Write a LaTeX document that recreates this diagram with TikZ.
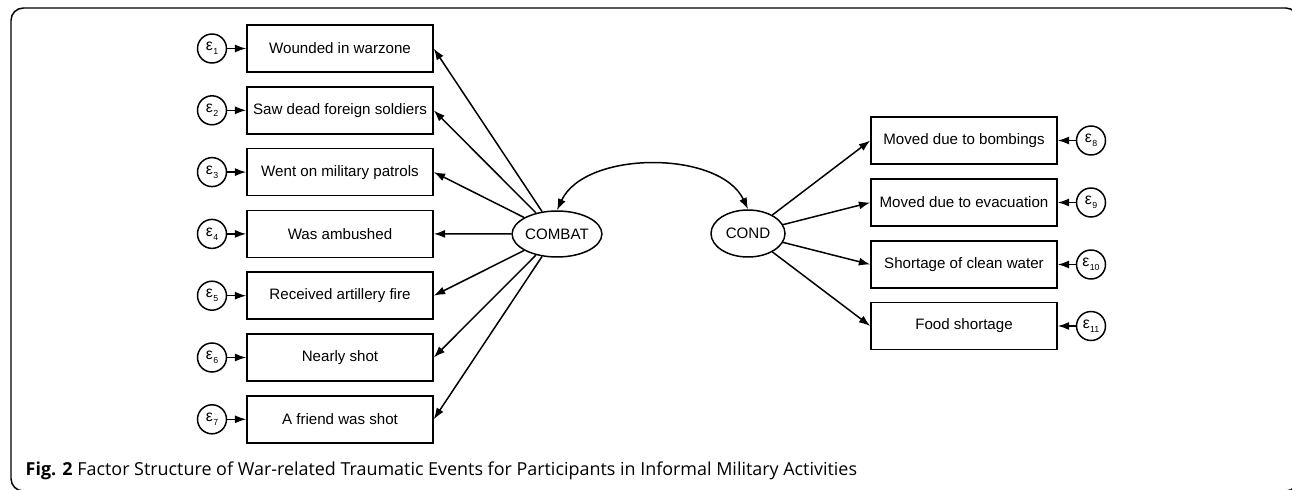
\documentclass[tikz,border=0pt]{standalone}
\usepackage{fontspec}
\setmainfont{Liberation Sans}
\newfontfamily\capfont{Open Sans}
\usetikzlibrary{shapes.geometric,arrows.meta}

\newcommand{\epsub}[1]{ε\kern0.2pt\raisebox{-2.2pt}{\fontsize{5}{6}\selectfont #1}}

\begin{document}
\begin{tikzpicture}[x=0.02cm, y=-0.02cm, line width=0.85pt,
	every node/.style={draw=black, font=\fontsize{8.6}{10}\selectfont},
	item/.style={rectangle, minimum width=3.72cm, minimum height=0.94cm, inner sep=0pt},
	factor/.style={ellipse, minimum width=1.44cm, minimum height=0.92cm, inner sep=0pt},
	err/.style={circle, minimum size=0.58cm, inner sep=0pt, font=\fontsize{9}{10}\selectfont},
	load/.style={-{Latex[length=6.5pt,width=4.6pt]}}]
	\useasboundingbox (0,0) rectangle (1292,490);
	\draw[rounded corners=7pt] (11,8) rectangle (1298,491);

	% combat items
	\node[item] (w1) at (340,48.5) {Wounded in warzone};
	\node[item] (w2) at (340,110.3) {Saw dead foreign soldiers};
	\node[item] (w3) at (340,172.1) {Went on military patrols};
	\node[item] (w4) at (340,233.9) {Was ambushed};
	\node[item] (w5) at (340,295.7) {Received artillery fire};
	\node[item] (w6) at (340,357.5) {Nearly shot};
	\node[item] (w7) at (340,419.3) {A friend was shot};

	\node[err] (e1) at (212,48.5) {\epsub{1}};
	\node[err] (e2) at (212,110.3) {\epsub{2}};
	\node[err] (e3) at (212,172.1) {\epsub{3}};
	\node[err] (e4) at (212,233.9) {\epsub{4}};
	\node[err] (e5) at (212,295.7) {\epsub{5}};
	\node[err] (e6) at (212,357.5) {\epsub{6}};
	\node[err] (e7) at (212,419.3) {\epsub{7}};

	% conditions items
	\node[item] (c1) at (964,140.5) {Moved due to bombings};
	\node[item] (c2) at (964,202.5) {Moved due to evacuation};
	\node[item] (c3) at (964,264.5) {Shortage of clean water};
	\node[item] (c4) at (964,326) {Food shortage};

	\node[err] (e8) at (1091,140.5) {\epsub{8}};
	\node[err] (e9) at (1091,202.5) {\epsub{9}};
	\node[err] (e10) at (1091,264.5) {\epsub{10}};
	\node[err] (e11) at (1091,326) {\epsub{11}};

	\node[factor] (combat) at (557,234) {COMBAT};
	\node[factor, minimum width=1.48cm, minimum height=0.94cm] (cond) at (748,233.5) {COND};

	\draw[load] (combat) -- (w1.east);
	\draw[load] (combat) -- (w2.east);
	\draw[load] (combat) -- (w3.east);
	\draw[load] (combat) -- (w4.east);
	\draw[load] (combat) -- (w5.east);
	\draw[load] (combat) -- (w6.east);
	\draw[load] (combat) -- (w7.east);

	\draw[load] (cond) -- (c1.west);
	\draw[load] (cond) -- (c2.west);
	\draw[load] (cond) -- (c3.west);
	\draw[load] (cond) -- (c4.west);

	\draw[load] (e1) -- (w1);
	\draw[load] (e2) -- (w2);
	\draw[load] (e3) -- (w3);
	\draw[load] (e4) -- (w4);
	\draw[load] (e5) -- (w5);
	\draw[load] (e6) -- (w6);
	\draw[load] (e7) -- (w7);
	\draw[load] (e8) -- (c1);
	\draw[load] (e9) -- (c2);
	\draw[load] (e10) -- (c3);
	\draw[load] (e11) -- (c4);

	% covariance
	\draw[{Latex[length=6.5pt,width=4.6pt]}-{Latex[length=6.5pt,width=4.6pt]}]
		(combat.north) .. controls (585,150) and (720,150) .. (cond.north);

	\node[draw=none, anchor=base west, inner sep=0pt, font=\capfont\fontsize{10.2}{12}\selectfont]
		(caption) at (25,475) {\textbf{Fig. 2} Factor Structure of War-related Traumatic Events for Participants in Informal Military Activities};
\end{tikzpicture}
\end{document}
